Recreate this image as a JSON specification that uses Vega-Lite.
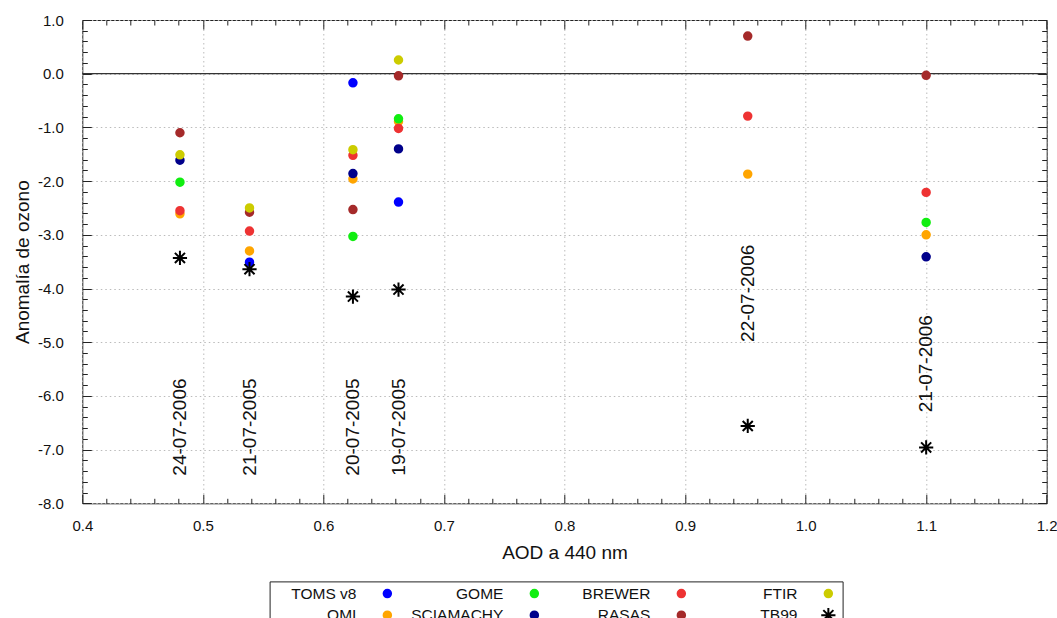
{
  "$schema": "https://vega.github.io/schema/vega-lite/v6.json",
  "width": 964.4,
  "height": 483.3,
  "autosize": {"type": "none"},
  "padding": {"left": 82.3, "top": 20, "right": 10.3, "bottom": 114.7},
  "background": "white",
  "datasets": {
    "obs": [
      {"aod": 0.5387, "anomalia": -3.51, "instrumento": "TOMS v8"},
      {"aod": 0.6245, "anomalia": -0.17, "instrumento": "TOMS v8"},
      {"aod": 0.6623, "anomalia": -2.39, "instrumento": "TOMS v8"},
      {"aod": 0.481, "anomalia": -2.61, "instrumento": "OMI"},
      {"aod": 0.5387, "anomalia": -3.30, "instrumento": "OMI"},
      {"aod": 0.6245, "anomalia": -1.96, "instrumento": "OMI"},
      {"aod": 0.6623, "anomalia": -0.89, "instrumento": "OMI"},
      {"aod": 0.952, "anomalia": -1.87, "instrumento": "OMI"},
      {"aod": 1.100, "anomalia": -3.00, "instrumento": "OMI"},
      {"aod": 0.481, "anomalia": -2.02, "instrumento": "GOME"},
      {"aod": 0.6245, "anomalia": -3.03, "instrumento": "GOME"},
      {"aod": 0.6623, "anomalia": -0.84, "instrumento": "GOME"},
      {"aod": 1.100, "anomalia": -2.77, "instrumento": "GOME"},
      {"aod": 0.481, "anomalia": -1.61, "instrumento": "SCIAMACHY"},
      {"aod": 0.6245, "anomalia": -1.86, "instrumento": "SCIAMACHY"},
      {"aod": 0.6623, "anomalia": -1.40, "instrumento": "SCIAMACHY"},
      {"aod": 1.100, "anomalia": -3.41, "instrumento": "SCIAMACHY"},
      {"aod": 0.481, "anomalia": -2.55, "instrumento": "BREWER"},
      {"aod": 0.5387, "anomalia": -2.93, "instrumento": "BREWER"},
      {"aod": 0.6245, "anomalia": -1.52, "instrumento": "BREWER"},
      {"aod": 0.6623, "anomalia": -1.02, "instrumento": "BREWER"},
      {"aod": 0.952, "anomalia": -0.79, "instrumento": "BREWER"},
      {"aod": 1.100, "anomalia": -2.21, "instrumento": "BREWER"},
      {"aod": 0.481, "anomalia": -1.10, "instrumento": "RASAS"},
      {"aod": 0.5387, "anomalia": -2.58, "instrumento": "RASAS"},
      {"aod": 0.6245, "anomalia": -2.53, "instrumento": "RASAS"},
      {"aod": 0.6623, "anomalia": -0.04, "instrumento": "RASAS"},
      {"aod": 0.952, "anomalia": 0.70, "instrumento": "RASAS"},
      {"aod": 1.100, "anomalia": -0.03, "instrumento": "RASAS"},
      {"aod": 0.481, "anomalia": -1.51, "instrumento": "FTIR"},
      {"aod": 0.5387, "anomalia": -2.50, "instrumento": "FTIR"},
      {"aod": 0.6245, "anomalia": -1.415, "instrumento": "FTIR"},
      {"aod": 0.6623, "anomalia": 0.255, "instrumento": "FTIR"},
      {"aod": 0.481, "anomalia": -3.43, "instrumento": "TB99"},
      {"aod": 0.5387, "anomalia": -3.64, "instrumento": "TB99"},
      {"aod": 0.6245, "anomalia": -4.15, "instrumento": "TB99"},
      {"aod": 0.6623, "anomalia": -4.02, "instrumento": "TB99"},
      {"aod": 0.952, "anomalia": -6.56, "instrumento": "TB99"},
      {"aod": 1.100, "anomalia": -6.96, "instrumento": "TB99"}
    ],
    "fechas": [
      {"aod": 0.481, "anomalia": -6.58, "fecha": "24-07-2006"},
      {"aod": 0.5387, "anomalia": -6.58, "fecha": "21-07-2005"},
      {"aod": 0.6245, "anomalia": -6.58, "fecha": "20-07-2005"},
      {"aod": 0.6623, "anomalia": -6.58, "fecha": "19-07-2005"},
      {"aod": 0.952, "anomalia": -4.09, "fecha": "22-07-2006"},
      {"aod": 1.100, "anomalia": -5.40, "fecha": "21-07-2006"}
    ],
    "cero": [{"anomalia": 0}]
  },
  "layer": [
    {
      "data": {"name": "cero"},
      "mark": {"type": "rule", "color": "#333", "strokeWidth": 1.2},
      "encoding": {
        "x": {"datum": 0.4, "type": "quantitative",
              "scale": {"domain": [0.4, 1.2], "nice": false, "zero": false},
              "axis": {"orient": "bottom", "offset": -483.3, "title": null, "labels": false, "grid": false, "ticks": true, "tickSize": 9,
                       "values": [0.4,0.42,0.44,0.46,0.48,0.5,0.52,0.54,0.56,0.58,0.6,0.62,0.64,0.66,0.68,0.7,0.72,0.74,0.76,0.78,0.8,0.82,0.84,0.86,0.88,0.9,0.92,0.94,0.96,0.98,1.0,1.02,1.04,1.06,1.08,1.1,1.12,1.14,1.16,1.18,1.2],
                       "tickDash": {"condition": {"test": "abs(datum.value*10-round(datum.value*10))<0.001", "value": [20, 0]}, "value": [5, 30]}}},
        "x2": {"datum": 1.2},
        "y": {"field": "anomalia", "type": "quantitative",
              "scale": {"domain": [-8, 1], "nice": false, "zero": false},
              "axis": {"orient": "left", "offset": -964.4, "title": null, "labels": false, "grid": false, "ticks": true, "tickSize": 9,
                       "values": [-8,-7.8,-7.6,-7.4,-7.2,-7,-6.8,-6.6,-6.4,-6.2,-6,-5.8,-5.6,-5.4,-5.2,-5,-4.8,-4.6,-4.4,-4.2,-4,-3.8,-3.6,-3.4,-3.2,-3,-2.8,-2.6,-2.4,-2.2,-2,-1.8,-1.6,-1.4,-1.2,-1,-0.8,-0.6,-0.4,-0.2,0,0.2,0.4,0.6,0.8,1],
                       "tickDash": {"condition": {"test": "abs(datum.value-round(datum.value))<0.001", "value": [20, 0]}, "value": [5, 30]}}}
      }
    },
    {
      "data": {"name": "fechas"},
      "mark": {"type": "text", "angle": 270, "align": "center", "baseline": "middle",
               "fontSize": 19, "font": "Liberation Sans", "color": "#111"},
      "encoding": {
        "x": {"field": "aod", "type": "quantitative",
              "scale": {"domain": [0.4, 1.2], "nice": false, "zero": false},
              "axis": {"orient": "top", "offset": -483.3, "title": null, "labels": false, "grid": false, "ticks": true, "tickSize": 9,
                       "values": [0.4,0.42,0.44,0.46,0.48,0.5,0.52,0.54,0.56,0.58,0.6,0.62,0.64,0.66,0.68,0.7,0.72,0.74,0.76,0.78,0.8,0.82,0.84,0.86,0.88,0.9,0.92,0.94,0.96,0.98,1.0,1.02,1.04,1.06,1.08,1.1,1.12,1.14,1.16,1.18,1.2],
                       "tickDash": {"condition": {"test": "abs(datum.value*10-round(datum.value*10))<0.001", "value": [20, 0]}, "value": [5, 30]}}},
        "y": {"field": "anomalia", "type": "quantitative",
              "scale": {"domain": [-8, 1], "nice": false, "zero": false},
              "axis": {"orient": "right", "offset": -964.4, "title": null, "labels": false, "grid": false, "ticks": true, "tickSize": 9,
                       "values": [-8,-7.8,-7.6,-7.4,-7.2,-7,-6.8,-6.6,-6.4,-6.2,-6,-5.8,-5.6,-5.4,-5.2,-5,-4.8,-4.6,-4.4,-4.2,-4,-3.8,-3.6,-3.4,-3.2,-3,-2.8,-2.6,-2.4,-2.2,-2,-1.8,-1.6,-1.4,-1.2,-1,-0.8,-0.6,-0.4,-0.2,0,0.2,0.4,0.6,0.8,1],
                       "tickDash": {"condition": {"test": "abs(datum.value-round(datum.value))<0.001", "value": [20, 0]}, "value": [5, 30]}}},
        "text": {"field": "fecha"}
      }
    },
    {
      "data": {"name": "obs"},
      "mark": {"type": "point", "filled": true, "size": 56, "strokeWidth": 2, "opacity": 1},
      "encoding": {
        "x": {"field": "aod", "type": "quantitative",
              "scale": {"domain": [0.4, 1.2], "nice": false, "zero": false},
              "axis": {"orient": "bottom", "title": "AOD a 440 nm", "titlePadding": 10, "labelPadding": 15, "ticks": false, "tickSize": 0,
                       "grid": true,
                       "gridOpacity": {"condition": {"test": "abs(datum.value*10-round(datum.value*10))<0.001", "value": 1}, "value": 0},
                       "values": [0.4,0.42,0.44,0.46,0.48,0.5,0.52,0.54,0.56,0.58,0.6,0.62,0.64,0.66,0.68,0.7,0.72,0.74,0.76,0.78,0.8,0.82,0.84,0.86,0.88,0.9,0.92,0.94,0.96,0.98,1.0,1.02,1.04,1.06,1.08,1.1,1.12,1.14,1.16,1.18,1.2],
                       "labelExpr": "abs(datum.value*10-round(datum.value*10))<0.001 ? format(datum.value, '.1f') : ''"}},
        "y": {"field": "anomalia", "type": "quantitative",
              "scale": {"domain": [-8, 1], "nice": false, "zero": false},
              "axis": {"orient": "left", "title": "Anomalía de ozono", "titlePadding": 5, "labelPadding": 19, "ticks": false, "tickSize": 0,
                       "grid": true,
                       "gridOpacity": {"condition": {"test": "abs(datum.value-round(datum.value))<0.001", "value": 1}, "value": 0},
                       "values": [-8,-7.8,-7.6,-7.4,-7.2,-7,-6.8,-6.6,-6.4,-6.2,-6,-5.8,-5.6,-5.4,-5.2,-5,-4.8,-4.6,-4.4,-4.2,-4,-3.8,-3.6,-3.4,-3.2,-3,-2.8,-2.6,-2.4,-2.2,-2,-1.8,-1.6,-1.4,-1.2,-1,-0.8,-0.6,-0.4,-0.2,0,0.2,0.4,0.6,0.8,1],
                       "labelExpr": "abs(datum.value-round(datum.value))<0.001 ? (datum.value < -0.001 ? '-' : '') + format(abs(datum.value), '.1f') : ''"}},
        "color": {"field": "instrumento", "type": "nominal", "title": null,
                  "scale": {"domain": ["TOMS v8","GOME","BREWER","FTIR","OMI","SCIAMACHY","RASAS","TB99"],
                            "range": ["#0000ff","#11ee11","#ee3333","#cccc00","#ffa500","#00008b","#a52a2a","#000000"]}},
        "stroke": {"field": "instrumento", "type": "nominal", "title": null,
                   "scale": {"domain": ["TOMS v8","GOME","BREWER","FTIR","OMI","SCIAMACHY","RASAS","TB99"],
                             "range": ["#0000ff","#11ee11","#ee3333","#cccc00","#ffa500","#00008b","#a52a2a","#000000"]}},
        "shape": {"field": "instrumento", "type": "nominal", "title": null,
                  "scale": {"domain": ["TOMS v8","GOME","BREWER","FTIR","OMI","SCIAMACHY","RASAS","TB99"],
                            "range": ["circle","circle","circle","circle","circle","circle","circle","M0,-1.9L0,1.9M-1.9,0L1.9,0M-1.35,-1.35L1.35,1.35M-1.35,1.35L1.35,-1.35"]}}
      }
    }
  ],
  "resolve": {"axis": {"x": "independent", "y": "independent"}},
  "config": {
    "font": "Liberation Sans",
    "view": {"stroke": "#222", "strokeWidth": 1},
    "axis": {
      "domain": false,
      "labelFont": "Liberation Sans", "labelFontSize": 15, "labelColor": "#111",
      "titleFont": "Liberation Sans", "titleFontSize": 19, "titleFontWeight": "normal", "titleColor": "#111",
      "tickColor": "#222", "tickWidth": 1,
      "labelOverlap": false, "labelFlush": false,
      "gridColor": "#bbb", "gridDash": [1.5, 3], "gridWidth": 1
    },
    "legend": {
      "orient": "none", "legendX": 187.3, "legendY": 561.4, "direction": "horizontal",
      "columns": 4, "gridAlign": "all", "columnPadding": 12, "rowPadding": 0,
      "padding": 3, "strokeColor": "#222", "fillColor": "white",
      "labelAlign": "right", "labelOffset": -38.7, "symbolOffset": 107,
      "labelFont": "Liberation Sans", "labelFontSize": 15.5, "labelColor": "#111", "labelLimit": 300,
      "symbolSize": 56, "symbolStrokeWidth": 2
    }
  }
}
